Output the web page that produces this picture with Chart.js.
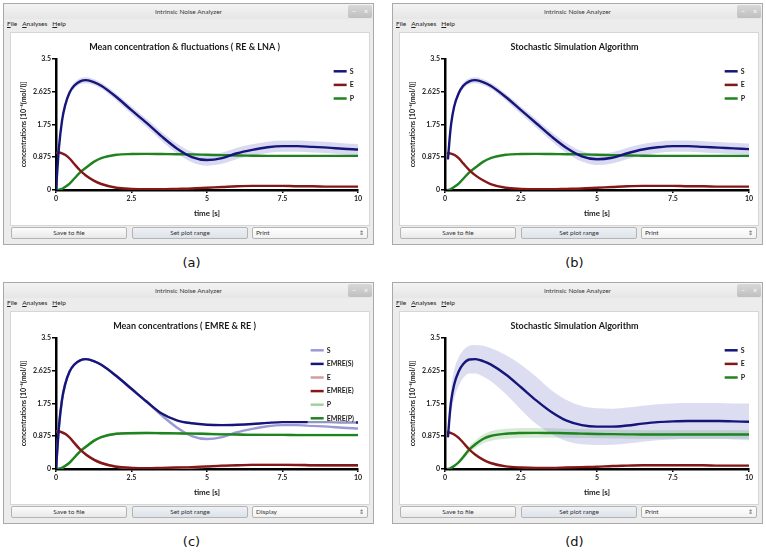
<!DOCTYPE html>
<html>
<head>
<meta charset="utf-8">
<script src="https://cdn.jsdelivr.net/npm/chart.js@4.4.0/dist/chart.umd.min.js"></script>
<style>
body { margin: 0; width: 766px; height: 552px; background: #fff; position: relative; overflow: hidden; font-family: Lato, sans-serif; }
.win { position: absolute; width: 371px; height: 242px; box-sizing: border-box; border: 1px solid #a9a9a9; background: #ececec; }
.tbar { position: absolute; left: 0; top: 0; right: 0; height: 15px; background: linear-gradient(#f3f3f3, #e6e6e6); text-align: center; font-size: 6.5px; line-height: 15px; color: #3a3a3a; }
.wbtns { position: absolute; left: 344px; top: 1px; width: 24px; height: 13px; border-radius: 2px; background: linear-gradient(#d8d8d8, #bfbfbf); color: #fff; font-size: 7px; line-height: 12px; }
.wbtns span { display: inline-block; width: 12px; text-align: center; }
.menu { position: absolute; left: 3px; top: 14px; font-size: 6.5px; line-height: 11px; color: #222; }
.menu span { margin-right: 5px; }
.frame { position: absolute; left: 6px; top: 28px; width: 360px; height: 194px; box-sizing: border-box; border: 1px solid #d6d6d6; background: #fff; }
.frame canvas { display: block; }
.btn { position: absolute; top: 223px; width: 116px; height: 12px; box-sizing: border-box; border: 1px solid #b4b4b4; border-radius: 2px; background: linear-gradient(#fcfcfc, #e9e9e9); font-size: 6.5px; line-height: 10px; text-align: center; color: #333; }
.btn.hl { background: linear-gradient(#eef1f5, #dde3ea); }
.btn.combo { text-align: left; padding-left: 3px; background: linear-gradient(#ffffff, #f1f1f1); }
.btn.combo i { position: absolute; right: 3px; top: 0; font-style: normal; font-size: 6px; color: #555; }
.cap { position: absolute; width: 383px; text-align: center; font: 13px "DejaVu Sans", sans-serif; color: #111; }
</style>
</head>
<body>

<div class="win" style="left:3px; top:3px;">
  <div class="tbar">Intrinsic Noise Analyzer</div>
  <div class="wbtns"><span>–</span><span>×</span></div>
  <div class="menu"><span><u>F</u>ile</span><span><u>A</u>nalyses</span><span><u>H</u>elp</span></div>
  <div class="frame"><canvas id="chartA" width="358" height="192"></canvas></div>
  <div class="btn" style="left:7px;">Save to file</div>
  <div class="btn hl" style="left:128px;">Set plot range</div>
  <div class="btn combo" style="left:248px;">Print<i>⇕</i></div>
</div>
<div class="cap" style="left:0; top:255px;">(a)</div>

<div class="win" style="left:392px; top:3px;">
  <div class="tbar">Intrinsic Noise Analyzer</div>
  <div class="wbtns"><span>–</span><span>×</span></div>
  <div class="menu"><span><u>F</u>ile</span><span><u>A</u>nalyses</span><span><u>H</u>elp</span></div>
  <div class="frame"><canvas id="chartB" width="358" height="192"></canvas></div>
  <div class="btn" style="left:7px;">Save to file</div>
  <div class="btn hl" style="left:128px;">Set plot range</div>
  <div class="btn combo" style="left:248px;">Print<i>⇕</i></div>
</div>
<div class="cap" style="left:383px; top:255px;">(b)</div>

<div class="win" style="left:3px; top:282px;">
  <div class="tbar">Intrinsic Noise Analyzer</div>
  <div class="wbtns"><span>–</span><span>×</span></div>
  <div class="menu"><span><u>F</u>ile</span><span><u>A</u>nalyses</span><span><u>H</u>elp</span></div>
  <div class="frame"><canvas id="chartC" width="358" height="192"></canvas></div>
  <div class="btn" style="left:7px;">Save to file</div>
  <div class="btn hl" style="left:128px;">Set plot range</div>
  <div class="btn combo" style="left:248px;">Display<i>⇕</i></div>
</div>
<div class="cap" style="left:0; top:534px;">(c)</div>

<div class="win" style="left:392px; top:282px;">
  <div class="tbar">Intrinsic Noise Analyzer</div>
  <div class="wbtns"><span>–</span><span>×</span></div>
  <div class="menu"><span><u>F</u>ile</span><span><u>A</u>nalyses</span><span><u>H</u>elp</span></div>
  <div class="frame"><canvas id="chartD" width="358" height="192"></canvas></div>
  <div class="btn" style="left:7px;">Save to file</div>
  <div class="btn hl" style="left:128px;">Set plot range</div>
  <div class="btn combo" style="left:248px;">Print<i>⇕</i></div>
</div>
<div class="cap" style="left:383px; top:534px;">(d)</div>

<script>
// axis ticks
const xTicks = [0, 2.5, 5, 7.5, 10];
const yTicks = [0, 0.875, 1.75, 2.625, 3.5];

// RE / LNA / EMRE time points
const tRE = [0, 0.05, 0.1, 0.2, 0.3, 0.45, 0.6, 0.8, 1, 1.25, 1.5, 2, 2.5, 3, 3.5, 4, 4.5, 5, 5.5, 6, 6.5, 7, 7.5, 8, 8.5, 9, 9.5, 10];
const reS = [0, 0.6, 1.15, 1.85, 2.25, 2.6, 2.78, 2.9, 2.93, 2.88, 2.78, 2.48, 2.13, 1.79, 1.43, 1.11, 0.88, 0.8, 0.85, 0.98, 1.07, 1.14, 1.17, 1.17, 1.15, 1.13, 1.1, 1.08];
const reE = [0.99, 1.0, 1.0, 0.98, 0.94, 0.84, 0.7, 0.52, 0.38, 0.25, 0.16, 0.06, 0.03, 0.02, 0.02, 0.03, 0.04, 0.06, 0.08, 0.1, 0.11, 0.11, 0.11, 0.1, 0.1, 0.09, 0.09, 0.09];
const reP = [0, 0, 0.01, 0.03, 0.08, 0.17, 0.3, 0.47, 0.6, 0.75, 0.85, 0.94, 0.96, 0.965, 0.96, 0.955, 0.95, 0.94, 0.93, 0.92, 0.915, 0.91, 0.91, 0.91, 0.91, 0.91, 0.91, 0.91];
const lnaSdS = [0, 0.03, 0.05, 0.07, 0.08, 0.08, 0.08, 0.08, 0.08, 0.08, 0.08, 0.09, 0.1, 0.11, 0.12, 0.13, 0.14, 0.15, 0.15, 0.15, 0.15, 0.15, 0.15, 0.15, 0.15, 0.15, 0.15, 0.15];

const emreS = [0, 0.6, 1.15, 1.85, 2.25, 2.6, 2.78, 2.9, 2.93, 2.88, 2.78, 2.48, 2.14, 1.8, 1.48, 1.3, 1.22, 1.18, 1.17, 1.18, 1.2, 1.23, 1.25, 1.25, 1.25, 1.25, 1.24, 1.24];
const emreE = [0.99, 1.0, 1.0, 0.98, 0.94, 0.84, 0.7, 0.52, 0.38, 0.25, 0.16, 0.06, 0.03, 0.02, 0.03, 0.04, 0.05, 0.07, 0.09, 0.1, 0.11, 0.11, 0.11, 0.11, 0.1, 0.1, 0.1, 0.1];
const emreP = [0, 0, 0.01, 0.03, 0.08, 0.17, 0.3, 0.47, 0.6, 0.75, 0.85, 0.94, 0.955, 0.96, 0.955, 0.95, 0.945, 0.935, 0.925, 0.92, 0.91, 0.91, 0.91, 0.905, 0.905, 0.905, 0.905, 0.905];

// SSA time points
const tSSA = [0.1, 0.15, 0.2, 0.3, 0.45, 0.6, 0.8, 1, 1.25, 1.5, 2, 2.5, 3, 3.5, 4, 4.5, 5, 5.5, 6, 6.5, 7, 7.5, 8, 8.5, 9, 9.5, 10];
// panel (b)
const ssaS1 = [0.84, 1.35, 1.75, 2.22, 2.58, 2.78, 2.9, 2.93, 2.88, 2.78, 2.48, 2.13, 1.78, 1.43, 1.12, 0.9, 0.82, 0.86, 0.98, 1.08, 1.14, 1.17, 1.17, 1.15, 1.13, 1.11, 1.09];
const ssaSdS1 = [0.02, 0.05, 0.06, 0.07, 0.08, 0.08, 0.08, 0.08, 0.08, 0.08, 0.09, 0.1, 0.11, 0.12, 0.13, 0.14, 0.15, 0.15, 0.15, 0.15, 0.15, 0.15, 0.15, 0.15, 0.15, 0.15, 0.15];
const ssaE1 = [0.98, 0.98, 0.97, 0.94, 0.85, 0.71, 0.53, 0.39, 0.26, 0.16, 0.06, 0.03, 0.02, 0.02, 0.03, 0.04, 0.06, 0.08, 0.1, 0.11, 0.11, 0.11, 0.1, 0.1, 0.09, 0.09, 0.09];
const ssaP1 = [0, 0.01, 0.03, 0.08, 0.17, 0.3, 0.47, 0.6, 0.75, 0.85, 0.94, 0.96, 0.965, 0.96, 0.955, 0.95, 0.94, 0.93, 0.92, 0.915, 0.91, 0.91, 0.91, 0.91, 0.91, 0.91, 0.91];
// panel (d)
const ssaS2 = [0.87, 1.4, 1.8, 2.25, 2.6, 2.8, 2.92, 2.93, 2.88, 2.79, 2.52, 2.18, 1.83, 1.52, 1.29, 1.17, 1.13, 1.13, 1.16, 1.21, 1.25, 1.27, 1.28, 1.28, 1.28, 1.27, 1.26];
const ssaSdS2 = [0.1, 0.25, 0.33, 0.38, 0.38, 0.37, 0.37, 0.38, 0.41, 0.44, 0.52, 0.6, 0.63, 0.58, 0.55, 0.51, 0.49, 0.48, 0.48, 0.48, 0.48, 0.48, 0.48, 0.48, 0.48, 0.48, 0.49];
const ssaE2 = [0.98, 0.97, 0.96, 0.92, 0.83, 0.7, 0.52, 0.38, 0.25, 0.16, 0.07, 0.04, 0.03, 0.03, 0.04, 0.05, 0.06, 0.08, 0.09, 0.1, 0.1, 0.1, 0.1, 0.1, 0.09, 0.09, 0.09];
const ssaSdE2 = [0, 0.01, 0.02, 0.03, 0.03, 0.03, 0.03, 0.03, 0.03, 0.03, 0.02, 0.02, 0.02, 0.02, 0.02, 0.02, 0.02, 0.03, 0.03, 0.03, 0.03, 0.03, 0.03, 0.03, 0.03, 0.03, 0.03];
const ssaP2 = [0, 0.01, 0.03, 0.08, 0.18, 0.32, 0.52, 0.66, 0.8, 0.88, 0.94, 0.96, 0.965, 0.96, 0.955, 0.945, 0.935, 0.93, 0.925, 0.92, 0.92, 0.92, 0.92, 0.92, 0.92, 0.92, 0.92];
const ssaSdP2 = [0, 0.01, 0.02, 0.03, 0.05, 0.07, 0.09, 0.1, 0.12, 0.13, 0.135, 0.135, 0.13, 0.125, 0.12, 0.12, 0.115, 0.115, 0.115, 0.115, 0.115, 0.115, 0.115, 0.115, 0.115, 0.115, 0.115];

const FONT = 'Lato';
const NAVY = '#16167a', RED = '#841818', GREEN = '#1f831f';
const NAVY_L = '#9a9ad4', RED_L = '#d49c9c', GREEN_L = '#9cd49c';

const pts = (ts, vs) => ts.map((t, i) => ({ x: t, y: vs[i] }));
const edge = (ts, m, sd, sign) => ts.map((t, i) => ({ x: t, y: m[i] + sign * sd[i] }));

function line(label, ts, vs, color) {
    return { label, data: pts(ts, vs), borderColor: color, borderWidth: 2.4, fill: false };
}
function band(ts, m, sd, color) {
    return [
        { data: edge(ts, m, sd, 1), borderWidth: 0, borderColor: 'transparent', backgroundColor: color, fill: '+1' },
        { data: edge(ts, m, sd, -1), borderWidth: 0, borderColor: 'transparent', fill: false }
    ];
}

// legend drawn inside the plot, top right
const sideLegend = {
    id: 'sideLegend',
    afterDatasetsDraw(chart, args, opts) {
        const { ctx, chartArea } = chart;
        ctx.save();
        ctx.font = 'bold 7px ' + FONT;
        const w = Math.max(...opts.items.map(it => ctx.measureText(it.label).width));
        const tx = chartArea.right - 4 - w;
        const top = chartArea.top + 12.5;
        ctx.fillStyle = 'rgba(255,255,255,0.55)';
        ctx.fillRect(tx - 19, top - 7, w + 21, opts.items.length * 13.6);
        opts.items.forEach((it, i) => {
            const y = top + i * 13.6;
            ctx.strokeStyle = it.color;
            ctx.lineWidth = 2.5;
            ctx.beginPath();
            ctx.moveTo(tx - 16, y);
            ctx.lineTo(tx - 3, y);
            ctx.stroke();
            ctx.fillStyle = '#222';
            ctx.textBaseline = 'middle';
            ctx.fillText(it.label, tx, y);
        });
        ctx.restore();
    }
};

function makeChart(id, title, datasets, items, rightPad) {
    return new Chart(document.getElementById(id), {
        type: 'line',
        data: { datasets },
        plugins: [sideLegend],
        options: {
            responsive: false,
            animation: false,
            devicePixelRatio: 1,
            layout: { padding: { left: 0, right: rightPad, top: 0, bottom: 0 } },
            elements: {
                point: { radius: 0 },
                line: { cubicInterpolationMode: 'monotone', borderCapStyle: 'round' }
            },
            plugins: {
                legend: { display: false },
                tooltip: { enabled: false },
                filler: { drawTime: 'beforeDatasetsDraw' },
                title: {
                    display: true,
                    text: title,
                    color: '#1a1a1a',
                    font: { family: FONT, size: 9, weight: 'bold' },
                    padding: { top: 9, bottom: 6 }
                },
                sideLegend: { items }
            },
            scales: {
                x: {
                    type: 'linear',
                    min: 0,
                    max: 10,
                    afterFit: s => { s.height = 35; },
                    afterBuildTicks: s => { s.ticks = xTicks.map(v => ({ value: v })); },
                    border: { color: '#000', width: 2.5 },
                    grid: { display: true, drawOnChartArea: false, drawTicks: true, tickLength: 3, color: '#000', lineWidth: 1.5 },
                    ticks: { color: '#222', padding: 2, font: { family: FONT, size: 7, weight: 'bold' }, maxRotation: 0 },
                    title: { display: true, text: 'time [s]', color: '#1a1a1a', font: { family: FONT, size: 8, weight: 'bold' }, padding: { top: 0, bottom: 7 } }
                },
                y: {
                    min: 0,
                    max: 3.5,
                    afterFit: s => { s.width = 45; },
                    afterBuildTicks: s => { s.ticks = yTicks.map(v => ({ value: v })); },
                    border: { color: '#000', width: 2.5 },
                    grid: { display: true, drawOnChartArea: false, drawTicks: true, tickLength: 4, color: '#000', lineWidth: 1.5 },
                    ticks: { color: '#222', padding: 1, font: { family: FONT, size: 7, weight: 'bold' }, callback: v => String(v) },
                    title: { display: true, text: 'concentrations [10⁻⁶(mol/l)]', color: '#1a1a1a', font: { family: FONT, size: 7, weight: 'bold' }, padding: { top: 9, bottom: 0 } }
                }
            }
        }
    });
}

const items3 = [
    { label: 'S', color: NAVY },
    { label: 'E', color: RED },
    { label: 'P', color: GREEN }
];

makeChart('chartA', 'Mean concentration & fluctuations ( RE & LNA )', [
    line('S', tRE, reS, NAVY),
    line('E', tRE, reE, RED),
    line('P', tRE, reP, GREEN),
    ...band(tRE, reS, lnaSdS, 'rgba(120,120,205,0.28)')
], items3, 11);

makeChart('chartB', 'Stochastic Simulation Algorithm', [
    line('S', tSSA, ssaS1, NAVY),
    line('E', tSSA, ssaE1, RED),
    line('P', tSSA, ssaP1, GREEN),
    ...band(tSSA, ssaS1, ssaSdS1, 'rgba(120,120,205,0.28)')
], items3, 9);

makeChart('chartC', 'Mean concentrations ( EMRE & RE )', [
    line('EMRE(S)', tRE, emreS, NAVY),
    line('EMRE(E)', tRE, emreE, RED),
    line('EMRE(P)', tRE, emreP, GREEN),
    line('S', tRE, reS, NAVY_L),
    line('E', tRE, reE, RED_L),
    line('P', tRE, reP, GREEN_L)
], [
    { label: 'S', color: NAVY_L },
    { label: 'EMRE(S)', color: NAVY },
    { label: 'E', color: RED_L },
    { label: 'EMRE(E)', color: RED },
    { label: 'P', color: GREEN_L },
    { label: 'EMRE(P)', color: GREEN }
], 11);

makeChart('chartD', 'Stochastic Simulation Algorithm', [
    line('S', tSSA, ssaS2, NAVY),
    line('E', tSSA, ssaE2, RED),
    line('P', tSSA, ssaP2, GREEN),
    ...band(tSSA, ssaS2, ssaSdS2, 'rgba(120,120,205,0.25)'),
    ...band(tSSA, ssaP2, ssaSdP2, 'rgba(90,170,90,0.25)'),
    ...band(tSSA, ssaE2, ssaSdE2, 'rgba(200,90,90,0.2)')
], items3, 9);
</script>
</body>
</html>
